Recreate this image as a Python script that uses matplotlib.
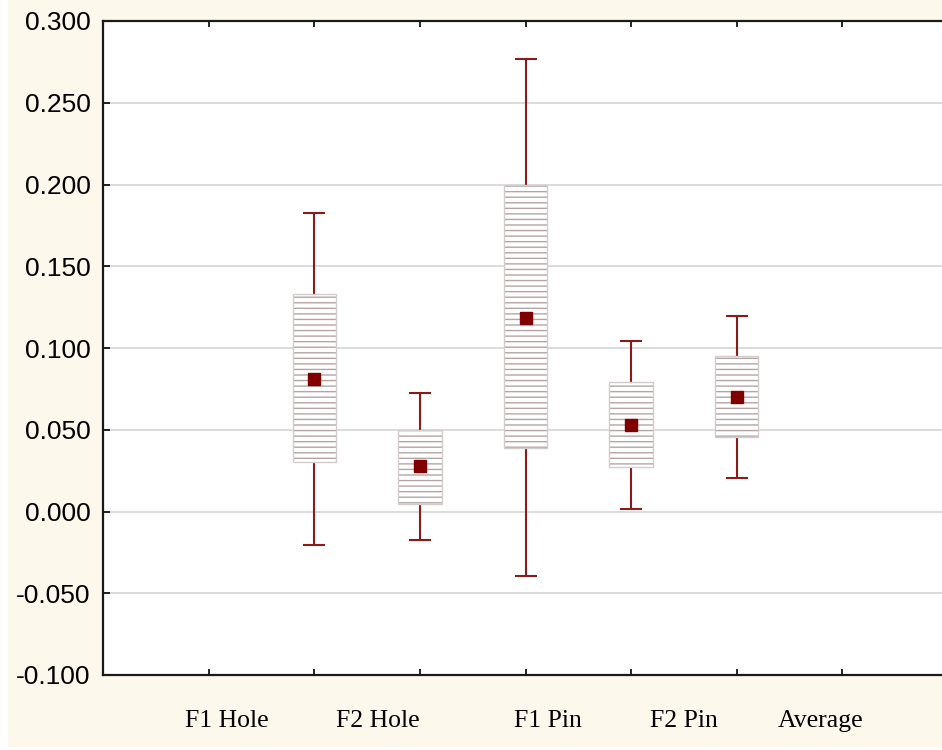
import matplotlib
matplotlib.use("Agg")
import matplotlib.pyplot as plt
from matplotlib.patches import Rectangle
import numpy as np

# Group data: mean, box (mean +/- SE) and whisker (mean +/- 1.96 SD) limits
positions = [2, 3, 4, 5, 6]
means = [0.081, 0.0278, 0.1183, 0.0529, 0.0700]
box_low = [0.0303, 0.0046, 0.0388, 0.0272, 0.0456]
box_high = [0.1330, 0.0498, 0.1997, 0.0792, 0.0951]
whisk_low = [-0.0205, -0.0174, -0.0394, 0.0015, 0.0205]
whisk_high = [0.1826, 0.0725, 0.2768, 0.1043, 0.1196]

category_labels = ["F1 Hole", "F2 Hole", "F1 Pin", "F2 Pin", "Average"]
label_positions = [1.174, 2.604, 4.214, 5.502, 6.79]
minor_ticks = [1, 2, 3, 4, 5, 6, 7]
y_ticks = [-0.100, -0.050, 0.000, 0.050, 0.100, 0.150, 0.200, 0.250, 0.300]

bg = "#fdf8ec"
dark_red = "#8b1a1a"
mean_red = "#800000"

plt.rcParams["hatch.linewidth"] = 1.0

fig = plt.figure(figsize=(9.42, 7.5), dpi=100, facecolor="white")
fig.patches.append(Rectangle((8 / 942, 3 / 750), 1, 1, transform=fig.transFigure,
                             facecolor=bg, edgecolor="none", zorder=-10))
ax = fig.add_axes([103 / 942, 75 / 750, 845 / 942, 654 / 750])
ax.set_facecolor("white")

ax.set_xlim(0, 8)
ax.set_ylim(-0.100, 0.300)

# Horizontal grid
ax.set_yticks(y_ticks)
ax.yaxis.grid(True, color="#d9d9d9", linewidth=1.3)
ax.set_axisbelow(True)

means_a = np.array(means)
yerr = [means_a - np.array(whisk_low), np.array(whisk_high) - means_a]

# Whiskers
ax.errorbar(positions, means, yerr=yerr, fmt="none", ecolor=dark_red,
            elinewidth=1.5, capsize=8, capthick=1.5, zorder=2)

# Hatched boxes
heights = np.array(box_high) - np.array(box_low)
ax.bar(positions, heights, bottom=box_low, width=0.41, facecolor="white",
       edgecolor="#b5a5a5", hatch="---", linewidth=0, zorder=3)
ax.bar(positions, heights, bottom=box_low, width=0.41, facecolor="none",
       edgecolor="#d2cccc", linewidth=1.0, zorder=3.5)

# Means
ax.plot(positions, means, linestyle="none", marker="s", markersize=8.5,
        color=mean_red, zorder=4)

# Axis formatting
ax.set_yticklabels([f"{v:.3f}" for v in y_ticks], fontsize=19,
                   fontfamily="Liberation Sans")
ax.tick_params(axis="y", direction="in", length=5, width=1.2, pad=9,
               colors="black")

ax.set_xticks(label_positions)
ax.set_xticklabels(category_labels, fontsize=18.5, fontfamily="Liberation Serif")
ax.tick_params(axis="x", which="major", length=0, pad=25)
ax.set_xticks(minor_ticks, minor=True)
ax.tick_params(axis="x", which="minor", direction="in", length=4, width=1.2,
               top=True, bottom=True)

for side in ["left", "top", "bottom"]:
    ax.spines[side].set_linewidth(1.6)
    ax.spines[side].set_color("#1a1a1a")
ax.spines["right"].set_visible(False)

fig.savefig("out.png", dpi=100, facecolor="white")
